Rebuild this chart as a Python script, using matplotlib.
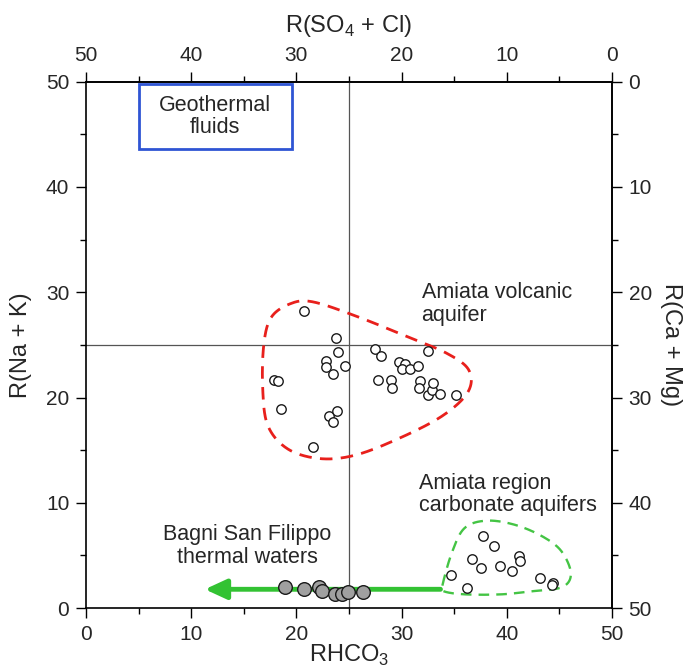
import numpy as np
import matplotlib

matplotlib.use('Agg')
import matplotlib.pyplot as plt
import matplotlib.patches as mpatches
from matplotlib.ticker import MultipleLocator

plt.rcParams['font.family'] = ['Liberation Sans', 'DejaVu Sans']
plt.rcParams['mathtext.fontset'] = 'custom'
plt.rcParams['mathtext.rm'] = 'Liberation Sans'

# Amiata volcanic aquifer (open circles)
volc_x = [20.75, 23.77, 23.99, 22.78, 22.8, 23.45, 24.62, 17.87, 18.28, 18.5,
          23.1, 23.9, 23.48, 21.58, 27.44, 28.0, 27.8, 29.0, 29.06, 29.72,
          30.3, 30.04, 30.83, 31.53, 32.54, 31.75, 31.69, 32.54, 32.86, 33.0,
          33.65, 35.14]
volc_y = [28.2, 25.67, 24.3, 23.5, 22.94, 22.24, 23.03, 21.67, 21.6, 18.95,
          18.28, 18.7, 17.65, 15.3, 24.59, 23.9, 21.67, 21.67, 20.94, 23.41,
          23.16, 22.72, 22.72, 23.0, 24.46, 21.6, 20.94, 20.25, 20.72, 21.36,
          20.37, 20.28]

# Amiata region carbonate aquifers (open circles)
carb_x = [37.77, 38.78, 36.66, 37.52, 39.35, 40.46, 41.19, 41.25, 34.67,
          36.19, 43.16, 44.42, 44.26]
carb_y = [6.84, 5.89, 4.63, 3.77, 3.99, 3.52, 4.94, 4.47, 3.14,
          1.87, 2.82, 2.41, 2.19]

# Bagni San Filippo thermal waters (grey circles)
therm_x = [18.95, 20.72, 22.18, 22.4, 23.67, 24.37, 24.94, 26.3]
therm_y = [1.96, 1.77, 2.03, 1.65, 1.3, 1.3, 1.49, 1.49]

# outline control points for the dashed fields
volc_hull_x = [17.6, 19.4, 21.5, 25.5, 30.5, 34.3, 36.4, 36.3, 33.8, 29.5,
               25.5, 22.2, 19.2, 17.3, 16.8, 16.9]
volc_hull_y = [27.6, 28.9, 29.1, 27.8, 25.8, 24.2, 22.6, 20.5, 18.2, 16.0,
               14.5, 14.2, 15.1, 17.3, 20.8, 25.0]
carb_hull_x = [33.9, 34.8, 36.0, 38.1, 40.8, 43.4, 45.2, 46.1, 45.3, 42.5,
               39.5, 36.0, 34.0]
carb_hull_y = [2.2, 5.3, 7.6, 8.3, 7.9, 6.8, 5.4, 3.3, 2.0, 1.6,
               1.3, 1.3, 1.6]

ticks = [0, 10, 20, 30, 40, 50]


def closed_spline(xs, ys, n=40):
    # periodic Catmull-Rom through the control points
    pts = np.column_stack([xs, ys])
    m = len(pts)
    out = []
    for i in range(m):
        p0, p1, p2, p3 = pts[(i - 1) % m], pts[i], pts[(i + 1) % m], pts[(i + 2) % m]
        t = np.linspace(0, 1, n, endpoint=False)[:, None]
        seg = 0.5 * ((2 * p1) + (-p0 + p2) * t + (2 * p0 - 5 * p1 + 4 * p2 - p3) * t ** 2
                     + (-p0 + 3 * p1 - 3 * p2 + p3) * t ** 3)
        out.append(seg)
    out = np.vstack(out)
    out = np.vstack([out, out[:1]])
    return out[:, 0], out[:, 1]


fig = plt.figure(figsize=(6.91, 6.70), dpi=100)
ax = fig.add_axes([0.1245, 0.0925, 0.761, 0.7855])
ax.set_xlim(0, 50)
ax.set_ylim(0, 50)

text_color = "#262626"
note_size = 15.5
tick_size = 15
label_size = 17

ax.axvline(25, color="#555555", lw=0.9, zorder=1)
ax.axhline(25, color="#555555", lw=0.9, zorder=1)

hx, hy = closed_spline(volc_hull_x, volc_hull_y)
ax.plot(hx, hy, color="#e8201c", lw=2, linestyle=(0, (4.5, 3)), zorder=2)
hx, hy = closed_spline(carb_hull_x, carb_hull_y)
ax.plot(hx, hy, color="#44c444", lw=1.7, linestyle=(0, (4.5, 3)), zorder=2)

# green arrow
ax.annotate("", xy=(11.3, 1.78), xytext=(33.7, 1.78),
            arrowprops=dict(arrowstyle="-|>,head_length=1.3,head_width=0.6",
                            color="#33c233", lw=3.5, shrinkA=0, shrinkB=0),
            zorder=3)

ax.plot(volc_x, volc_y, "o", ms=6.8, mfc="white", mec="#1a1a1a", mew=1.0, zorder=4)
ax.plot(carb_x, carb_y, "o", ms=6.8, mfc="white", mec="#1a1a1a", mew=1.0, zorder=4)
ax.plot(therm_x, therm_y, "o", ms=9.8, mfc="#a0a0a0", mec="#1a1a1a", mew=1.0, zorder=5)

ax.add_patch(mpatches.Rectangle((5, 43.6), 14.6, 6.2, fill=False,
                                edgecolor="#2f55d4", lw=2, zorder=3))
ax.text(12.3, 46.7, "Geothermal\nfluids", ha="center", va="center", fontsize=note_size,
        color=text_color, linespacing=1.1)
ax.text(31.9, 28.9, "Amiata volcanic\naquifer", ha="left", va="center", fontsize=note_size,
        color=text_color, linespacing=1.1)
ax.text(31.7, 10.8, "Amiata region\ncarbonate aquifers", ha="left", va="center",
        fontsize=note_size, color=text_color, linespacing=1.1)
ax.text(15.3, 5.9, "Bagni San Filippo\nthermal waters", ha="center", va="center",
        fontsize=note_size, color=text_color, linespacing=1.1)

for sp in ax.spines.values():
    sp.set_linewidth(1.2)

ax.set_xticks(ticks)
ax.set_yticks(ticks)
ax.xaxis.set_minor_locator(MultipleLocator(5))
ax.yaxis.set_minor_locator(MultipleLocator(5))
ax.tick_params(which="major", direction="out", length=7, width=1, labelsize=tick_size,
               labelcolor=text_color, pad=5)
ax.tick_params(which="minor", direction="out", length=4.3, width=1)

top = ax.secondary_xaxis("top", functions=(lambda v: 50 - v, lambda v: 50 - v))
top.set_xticks(ticks)
top.xaxis.set_minor_locator(MultipleLocator(5))
top.tick_params(which="major", direction="out", length=7, width=1, labelsize=tick_size,
                labelcolor=text_color, pad=5)
top.tick_params(which="minor", direction="out", length=4.3, width=1)
top.spines["top"].set_linewidth(1.2)

right = ax.secondary_yaxis("right", functions=(lambda v: 50 - v, lambda v: 50 - v))
right.set_yticks(ticks)
right.yaxis.set_minor_locator(MultipleLocator(5))
right.tick_params(which="major", direction="out", length=7, width=1, labelsize=tick_size,
                  labelcolor=text_color, pad=5)
right.tick_params(which="minor", direction="out", length=4.3, width=1)
right.spines["right"].set_linewidth(1.2)

ax.set_xlabel(r"RHCO$_3$", fontsize=label_size, color=text_color, labelpad=-1)
ax.set_ylabel("R(Na + K)", fontsize=label_size, color=text_color, labelpad=10)
top.set_xlabel(r"R(SO$_4$ + Cl)", fontsize=label_size, color=text_color, labelpad=10)
right.set_ylabel("R(Ca + Mg)", fontsize=label_size, color=text_color, rotation=270,
                 labelpad=22)

fig.savefig("out.png", dpi=100)
plt.close(fig)
